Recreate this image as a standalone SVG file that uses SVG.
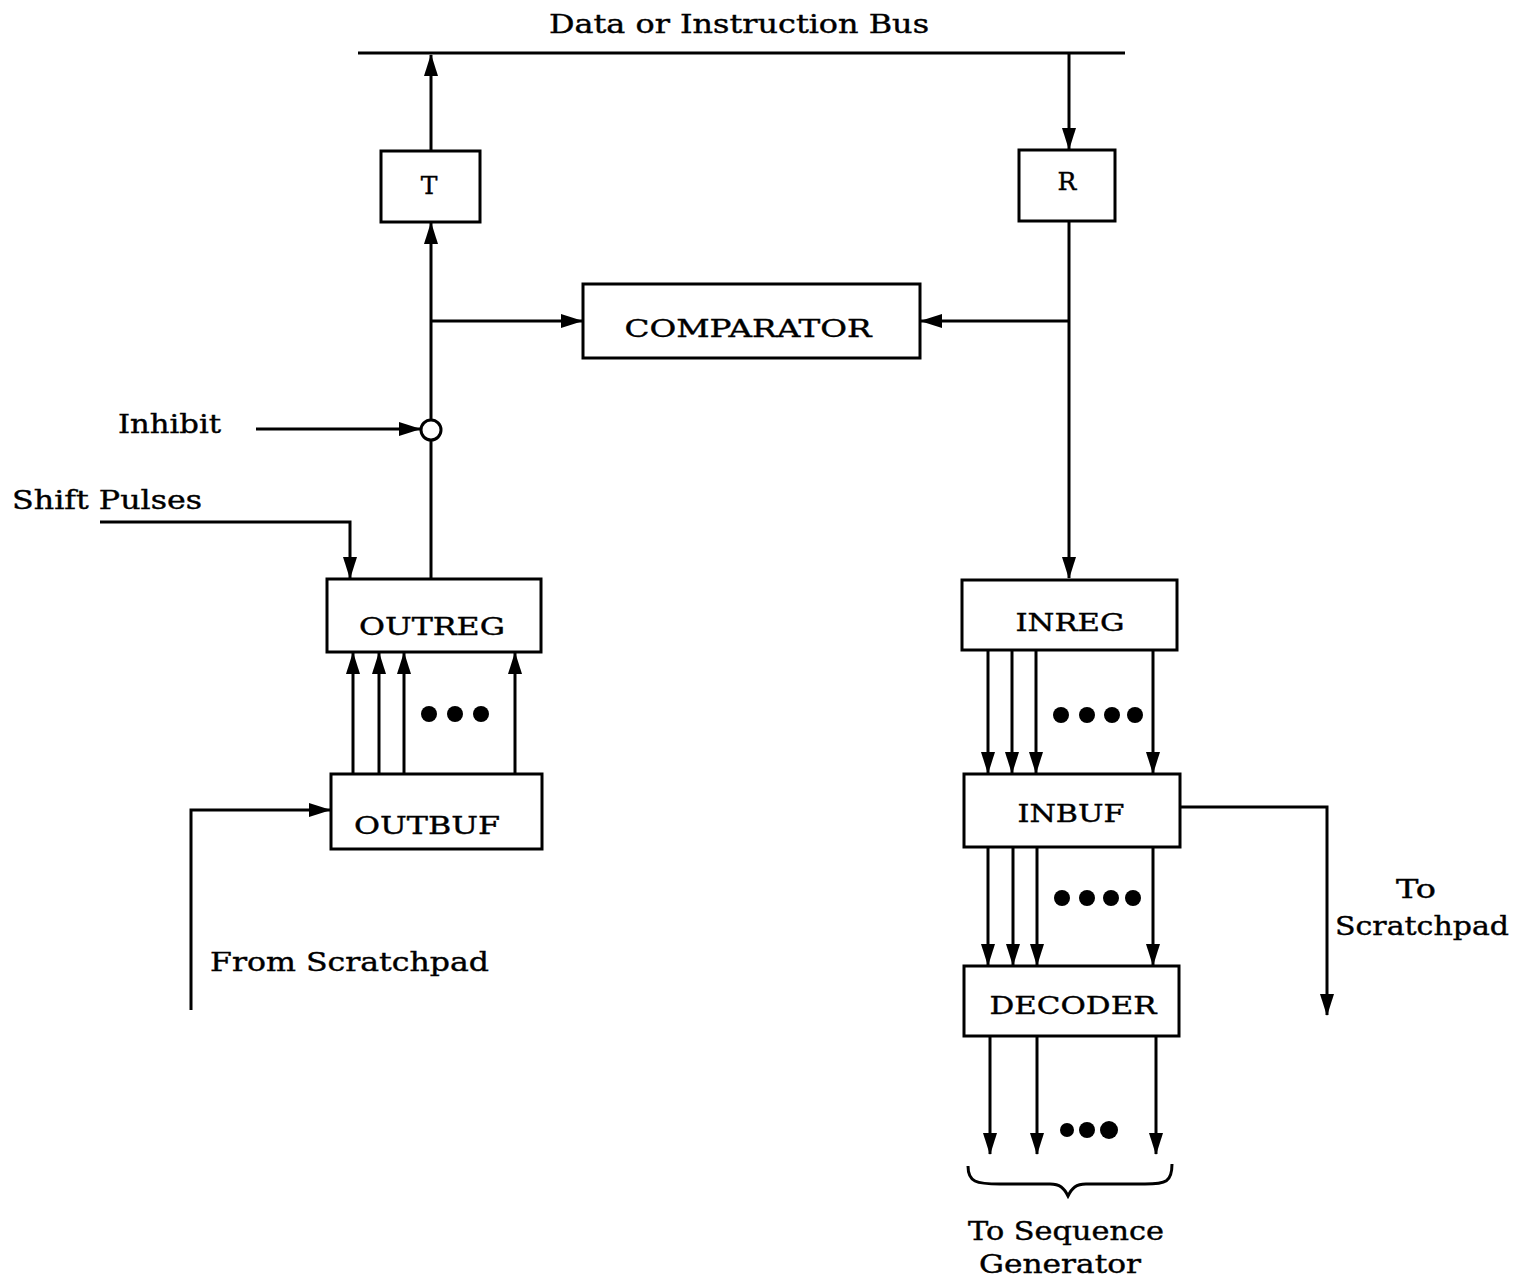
<svg xmlns="http://www.w3.org/2000/svg" width="1519" height="1283" viewBox="0 0 1519 1283">
<style>
.box{fill:#fff;stroke:#000;stroke-width:3}
.ln{fill:none;stroke:#000;stroke-width:3}
.lb{font-family:"DejaVu Serif","Liberation Serif",serif;font-size:26px;fill:#000;stroke:#000;stroke-width:0.4}
.bl{font-family:"DejaVu Serif","Liberation Serif",serif;font-size:25px;fill:#000;text-anchor:middle;stroke:#000;stroke-width:0.4}
</style>
<defs>
<marker id="ah" markerUnits="userSpaceOnUse" markerWidth="24" markerHeight="16" refX="21" refY="7" orient="auto">
<path d="M0,0 L22,7 L0,14 Z" fill="#000"/>
</marker>
</defs>
<rect width="1519" height="1283" fill="#fff"/>
<text class="lb" x="549" y="33" textLength="380" lengthAdjust="spacingAndGlyphs">Data or Instruction Bus</text>
<g id="connectors">
<line class="ln" x1="358" y1="53" x2="1125" y2="53"/>
<line class="ln" x1="431" y1="151" x2="431" y2="55" marker-end="url(#ah)"/>
<line class="ln" x1="431" y1="420" x2="431" y2="223" marker-end="url(#ah)"/>
<line class="ln" x1="431" y1="579" x2="431" y2="440"/>
<line class="ln" x1="431" y1="321" x2="582" y2="321" marker-end="url(#ah)"/>
<line class="ln" x1="1069" y1="53" x2="1069" y2="149" marker-end="url(#ah)"/>
<line class="ln" x1="1069" y1="221" x2="1069" y2="578" marker-end="url(#ah)"/>
<line class="ln" x1="1069" y1="321" x2="921" y2="321" marker-end="url(#ah)"/>
<line class="ln" x1="256" y1="429" x2="420" y2="429" marker-end="url(#ah)"/>
<polyline class="ln" points="100,522 350,522 350,578" marker-end="url(#ah)"/>
<polyline class="ln" points="191,1010 191,810 330,810" marker-end="url(#ah)"/>
<line class="ln" x1="353" y1="774" x2="353" y2="653" marker-end="url(#ah)"/>
<line class="ln" x1="379" y1="774" x2="379" y2="653" marker-end="url(#ah)"/>
<line class="ln" x1="404" y1="774" x2="404" y2="653" marker-end="url(#ah)"/>
<line class="ln" x1="515" y1="774" x2="515" y2="653" marker-end="url(#ah)"/>
<line class="ln" x1="988" y1="650" x2="988" y2="773" marker-end="url(#ah)"/>
<line class="ln" x1="1012" y1="650" x2="1012" y2="773" marker-end="url(#ah)"/>
<line class="ln" x1="1036" y1="650" x2="1036" y2="773" marker-end="url(#ah)"/>
<line class="ln" x1="1153" y1="650" x2="1153" y2="773" marker-end="url(#ah)"/>
<line class="ln" x1="988" y1="847" x2="988" y2="965" marker-end="url(#ah)"/>
<line class="ln" x1="1013" y1="847" x2="1013" y2="965" marker-end="url(#ah)"/>
<line class="ln" x1="1037" y1="847" x2="1037" y2="965" marker-end="url(#ah)"/>
<line class="ln" x1="1153" y1="847" x2="1153" y2="965" marker-end="url(#ah)"/>
<line class="ln" x1="990" y1="1036" x2="990" y2="1154" marker-end="url(#ah)"/>
<line class="ln" x1="1037" y1="1036" x2="1037" y2="1154" marker-end="url(#ah)"/>
<line class="ln" x1="1156" y1="1036" x2="1156" y2="1154" marker-end="url(#ah)"/>
<polyline class="ln" points="1180,807 1327,807 1327,1015" marker-end="url(#ah)"/>
<path class="ln" d="M968,1166 C968,1182 976,1184 1000,1184 L1050,1184 C1060,1184 1064,1188 1068,1196 C1072,1188 1076,1184 1086,1184 L1145,1184 C1166,1184 1172,1182 1172,1164"/>
</g>
<g id="inhibit-gate"><circle cx="431" cy="430" r="10" fill="#fff" stroke="#000" stroke-width="3"/></g>
<g id="T"><rect class="box" x="381" y="151" width="99" height="71"/><text class="bl" x="429" y="194" font-size="27">T</text></g>
<g id="R"><rect class="box" x="1019" y="150" width="96" height="71"/><text class="bl" x="1067" y="190" font-size="27">R</text></g>
<g id="comparator"><rect class="box" x="583" y="284" width="337" height="74"/><text class="bl" x="748" y="337" textLength="247" lengthAdjust="spacingAndGlyphs">COMPARATOR</text></g>
<g id="outreg"><rect class="box" x="327" y="579" width="214" height="73"/><text class="bl" x="432" y="635" textLength="146" lengthAdjust="spacingAndGlyphs">OUTREG</text></g>
<g id="outbuf"><rect class="box" x="331" y="774" width="211" height="75"/><text class="bl" x="427" y="834" textLength="146" lengthAdjust="spacingAndGlyphs">OUTBUF</text></g>
<g id="inreg"><rect class="box" x="962" y="580" width="215" height="70"/><text class="bl" x="1070" y="631" textLength="109" lengthAdjust="spacingAndGlyphs">INREG</text></g>
<g id="inbuf"><rect class="box" x="964" y="774" width="216" height="73"/><text class="bl" x="1071" y="822" textLength="107" lengthAdjust="spacingAndGlyphs">INBUF</text></g>
<g id="decoder"><rect class="box" x="964" y="966" width="215" height="70"/><text class="bl" x="1073" y="1014" textLength="167" lengthAdjust="spacingAndGlyphs">DECODER</text></g>
<g id="dots" fill="#000">
<circle cx="429" cy="714" r="8"/><circle cx="455" cy="714" r="8"/><circle cx="481" cy="714" r="8"/>
<circle cx="1061" cy="715" r="8"/><circle cx="1087" cy="715" r="8"/><circle cx="1112" cy="715" r="8"/><circle cx="1135" cy="715" r="8"/>
<circle cx="1062" cy="898" r="8"/><circle cx="1087" cy="898" r="8"/><circle cx="1111" cy="898" r="8"/><circle cx="1133" cy="898" r="8"/>
<circle cx="1067" cy="1130" r="7"/><circle cx="1087" cy="1130" r="8"/><circle cx="1109" cy="1130" r="9"/>
</g>
<g id="labels">
<text class="lb" x="118" y="433" textLength="103" lengthAdjust="spacingAndGlyphs">Inhibit</text>
<text class="lb" x="12" y="509" textLength="190" lengthAdjust="spacingAndGlyphs">Shift Pulses</text>
<text class="lb" x="210" y="971" textLength="279" lengthAdjust="spacingAndGlyphs">From Scratchpad</text>
<text class="lb" x="1396" y="898" textLength="40" lengthAdjust="spacingAndGlyphs">To</text>
<text class="lb" x="1335" y="935" textLength="174" lengthAdjust="spacingAndGlyphs">Scratchpad</text>
<text class="lb" x="968" y="1240" textLength="196" lengthAdjust="spacingAndGlyphs">To Sequence</text>
<text class="lb" x="979" y="1273" textLength="162" lengthAdjust="spacingAndGlyphs">Generator</text>
</g>
</svg>
